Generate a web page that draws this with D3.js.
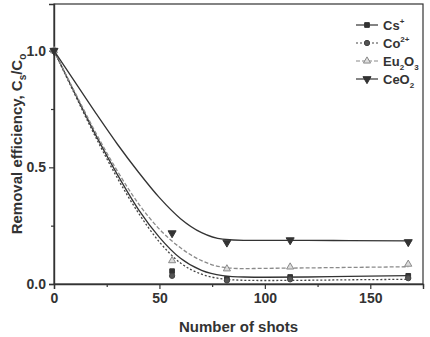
<!DOCTYPE html>
<html>
<head>
<meta charset="utf-8">
<script src="https://cdn.jsdelivr.net/npm/d3@7"></script>
<style>
  body { margin: 0; background: #fff; }
  svg text { font-family: "Liberation Sans", Arial, sans-serif; fill: #333; }
</style>
</head>
<body>
<svg id="chart" width="430" height="337"></svg>
<script>
// measured points
var shots = [0, 56, 82, 112, 168];
var cs = [1.0, 0.055, 0.022, 0.03, 0.035];
var co = [1.0, 0.035, 0.015, 0.02, 0.025];
var eu = [1.0, 0.1, 0.065, 0.073, 0.085];
var ce = [1.0, 0.218, 0.178, 0.188, 0.18];

// fitted curves
var fitX = [0, 10, 20, 30, 40, 50, 60, 70, 80, 90, 100, 120, 140, 168];
var fitCs = [1.0, 0.815, 0.635, 0.47, 0.32, 0.2, 0.11, 0.058, 0.036, 0.03, 0.029, 0.03, 0.033, 0.036];
var fitCo = [1.0, 0.81, 0.625, 0.455, 0.305, 0.18, 0.09, 0.042, 0.022, 0.016, 0.015, 0.016, 0.018, 0.02];
var fitEu = [1.0, 0.82, 0.645, 0.485, 0.345, 0.235, 0.155, 0.1, 0.072, 0.066, 0.067, 0.069, 0.071, 0.074];
var fitCe = [1.0, 0.865, 0.73, 0.6, 0.48, 0.37, 0.28, 0.22, 0.192, 0.187, 0.187, 0.187, 0.186, 0.185];

var xTicks = [0, 50, 100, 150];
var yTicks = [0.0, 0.5, 1.0];

var padL = 54, padR = 423, padT = 4, padB = 284;

var x = d3.scaleLinear().domain([0, 175]).range([padL, padR]);
var y = d3.scaleLinear().domain([0, 1.2]).range([padB, padT]);

var svg = d3.select("#chart");

var series = [
  { name: "Cs", sup: "+", pts: cs, fit: fitCs, dash: null, color: "#333", sym: d3.symbolSquare, fill: "#333", size: 22 },
  { name: "Co", sup: "2+", pts: co, fit: fitCo, dash: "2,2", color: "#444", sym: d3.symbolCircle, fill: "#555", size: 22 },
  { name: "Eu2O3", pts: eu, fit: fitEu, dash: "4,2", color: "#8a8a8a", sym: d3.symbolTriangle, fill: "#ddd", size: 22 },
  { name: "CeO2", pts: ce, fit: fitCe, dash: null, color: "#333", sym: d3.symbolTriangle, fill: "#333", size: 28, flip: true }
];

// frame
svg.append("rect")
  .attr("x", padL).attr("y", padT)
  .attr("width", padR - padL).attr("height", padB - padT)
  .attr("fill", "none").attr("stroke", "#333").attr("stroke-width", 1.2);

// axes
svg.append("g")
  .attr("transform", "translate(0," + padB + ")")
  .call(d3.axisBottom(x).tickValues(xTicks).tickFormat(d3.format("d")).tickSize(5).tickPadding(4));
svg.append("g")
  .attr("transform", "translate(0," + padB + ")")
  .call(d3.axisBottom(x).tickValues([25, 75, 125, 175]).tickFormat("").tickSize(3))
  .select(".domain").remove();

svg.append("g")
  .attr("transform", "translate(" + padL + ",0)")
  .call(d3.axisLeft(y).tickValues(yTicks).tickFormat(d3.format(".1f")).tickSize(5).tickPadding(3));
svg.append("g")
  .attr("transform", "translate(" + padL + ",0)")
  .call(d3.axisLeft(y).tickValues([0.25, 0.75]).tickFormat("").tickSize(3))
  .select(".domain").remove();

svg.selectAll(".domain").attr("stroke", "#333").attr("stroke-width", 1.4);
svg.selectAll(".tick line").attr("stroke", "#333").attr("stroke-width", 1.2);
svg.selectAll(".tick text")
  .attr("font-size", 14).attr("font-weight", "bold").attr("fill", "#333")
  .style("font-family", "Liberation Sans, Arial, sans-serif");

// axis titles
svg.append("text")
  .attr("x", (padL + padR) / 2).attr("y", 332)
  .attr("text-anchor", "middle")
  .attr("font-size", 15).attr("font-weight", "bold")
  .text("Number of shots");

var yt = svg.append("text")
  .attr("transform", "translate(22," + ((padT + padB) / 2) + ") rotate(-90)")
  .attr("text-anchor", "middle")
  .attr("font-size", 15).attr("font-weight", "bold");
yt.append("tspan").text("Removal efficiency, C");
yt.append("tspan").attr("font-size", 10).attr("dy", 4).text("s");
yt.append("tspan").attr("dy", -4).text("/C");
yt.append("tspan").attr("font-size", 10).attr("dy", 4).text("o");

// fitted lines
var line = d3.line()
  .x(function(d) { return x(d[0]); })
  .y(function(d) { return y(d[1]); })
  .curve(d3.curveMonotoneX);

series.forEach(function(s) {
  svg.append("path")
    .datum(fitX.map(function(v, i) { return [v, s.fit[i]]; }))
    .attr("fill", "none")
    .attr("stroke", s.color)
    .attr("stroke-width", 1.3)
    .attr("stroke-dasharray", s.dash)
    .attr("d", line);
});

// markers
function marker(g, s, px, py) {
  g.append("path")
    .attr("d", d3.symbol().type(s.sym).size(s.size)())
    .attr("transform", "translate(" + px + "," + py + ")" + (s.flip ? " rotate(180)" : ""))
    .attr("fill", s.fill)
    .attr("stroke", s.color)
    .attr("stroke-width", 1);
}

series.forEach(function(s) {
  s.pts.forEach(function(v, i) {
    marker(svg, s, x(shots[i]), y(v));
  });
});

// legend
var legend = svg.append("g");
series.forEach(function(s, i) {
  var ly = 25 + i * 18;
  legend.append("line")
    .attr("x1", 356).attr("x2", 378)
    .attr("y1", ly).attr("y2", ly)
    .attr("stroke", s.color).attr("stroke-width", 1.2)
    .attr("stroke-dasharray", s.dash);
  marker(legend, s, 367, ly);
  var t = legend.append("text")
    .attr("x", 383).attr("y", ly + 5)
    .attr("font-size", 13).attr("font-weight", "bold");
  if (s.name === "Eu2O3") {
    t.append("tspan").text("Eu");
    t.append("tspan").attr("font-size", 8).attr("dy", 4).text("2");
    t.append("tspan").attr("dy", -4).text("O");
    t.append("tspan").attr("font-size", 8).attr("dy", 4).text("3");
  } else if (s.name === "CeO2") {
    t.append("tspan").text("CeO");
    t.append("tspan").attr("font-size", 8).attr("dy", 4).text("2");
  } else {
    t.append("tspan").text(s.name);
    t.append("tspan").attr("font-size", 8).attr("dy", -6).text(s.sup);
  }
});
</script>
</body>
</html>
